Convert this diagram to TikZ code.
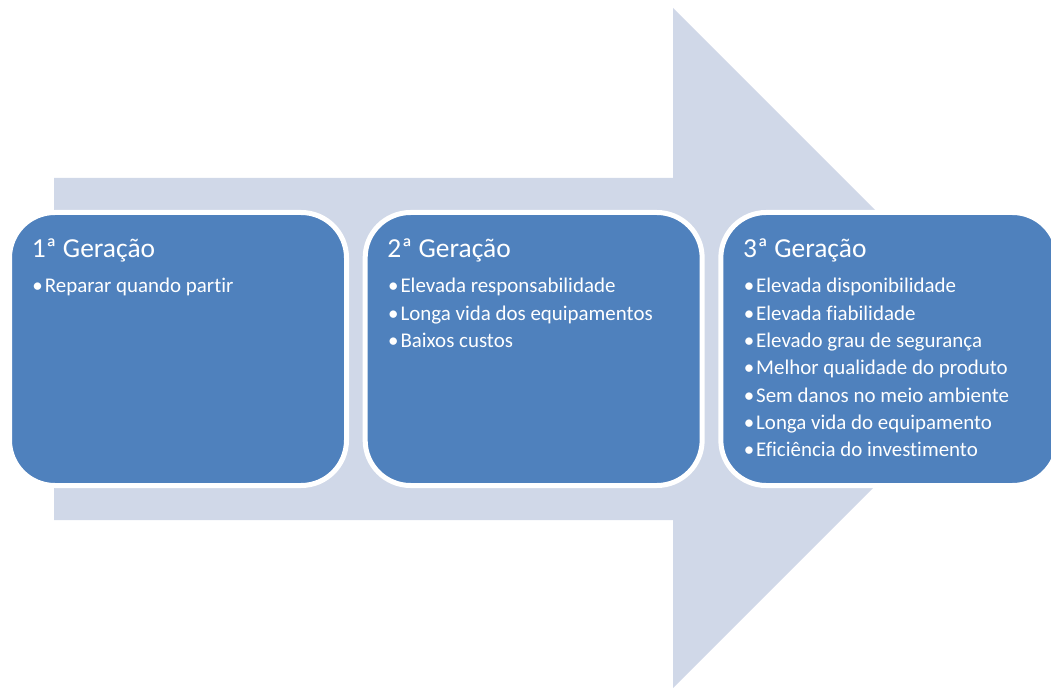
\documentclass[tikz,border=0pt]{standalone}
\usepackage{fontspec}
\setmainfont{Carlito}[Ligatures=CommonOff]
\usetikzlibrary{positioning}
\definecolor{boxblue}{HTML}{4F81BD}
\definecolor{arrowgray}{HTML}{D0D8E8}
\tikzset{
  genbox/.style={rectangle, rounded corners=34pt, fill=boxblue, draw=white, line width=3.75pt,
                 minimum width=252.75pt, minimum height=204.75pt, inner sep=0pt, outer sep=0pt},
  gentitle/.style={anchor=base west, inner sep=0pt, text=white, font=\fontsize{20.6}{24}\selectfont},
  genlist/.style={anchor=base west, inner sep=0pt, text=white, font=\fontsize{15.7}{20.5}\selectfont},
}

\begin{document}
\begin{tikzpicture}[x=0.75pt, y=-0.75pt]
  \clip (0,0) rectangle (1051,688);
  % big arrow behind the boxes
  \fill[arrowgray] (54,178) -- (673,178) -- (673,8) -- (1013,348) -- (673,688) -- (673,520) -- (54,520) -- cycle;

  \node[genbox] (gen1) at (178,349) {};
  \node[genbox] (gen2) [right=14pt of gen1] {};
  \node[genbox] (gen3) [right=14pt of gen2] {};

  \node[gentitle] (title1) at ([xshift=16.5pt, yshift=-33.4pt]gen1.north west) {1ª Geração};
  \node[gentitle] (title2) at ([xshift=16.5pt, yshift=-33.4pt]gen2.north west) {2ª Geração};
  \node[gentitle] (title3) at ([xshift=16.5pt, yshift=-33.4pt]gen3.north west) {3ª Geração};

  \node[genlist] (list1) at ([xshift=0.5pt, yshift=-26.8pt]title1.base west) {\begin{tabular}[t]{@{}l@{}}
    •\hspace{1.5pt}Reparar quando partir
  \end{tabular}};
  \node[genlist] (list2) at ([xshift=0.5pt, yshift=-26.8pt]title2.base west) {\begin{tabular}[t]{@{}l@{}}
    •\hspace{1.5pt}Elevada responsabilidade\\
    •\hspace{1.5pt}Longa vida dos equipamentos\\
    •\hspace{1.5pt}Baixos custos
  \end{tabular}};
  \node[genlist] (list3) at ([xshift=0.5pt, yshift=-26.8pt]title3.base west) {\begin{tabular}[t]{@{}l@{}}
    •\hspace{1.5pt}Elevada disponibilidade\\
    •\hspace{1.5pt}Elevada fiabilidade\\
    •\hspace{1.5pt}Elevado grau de segurança\\
    •\hspace{1.5pt}Melhor qualidade do produto\\
    •\hspace{1.5pt}Sem danos no meio ambiente\\
    •\hspace{1.5pt}Longa vida do equipamento\\
    •\hspace{1.5pt}Eficiência do investimento
  \end{tabular}};
\end{tikzpicture}
\end{document}
